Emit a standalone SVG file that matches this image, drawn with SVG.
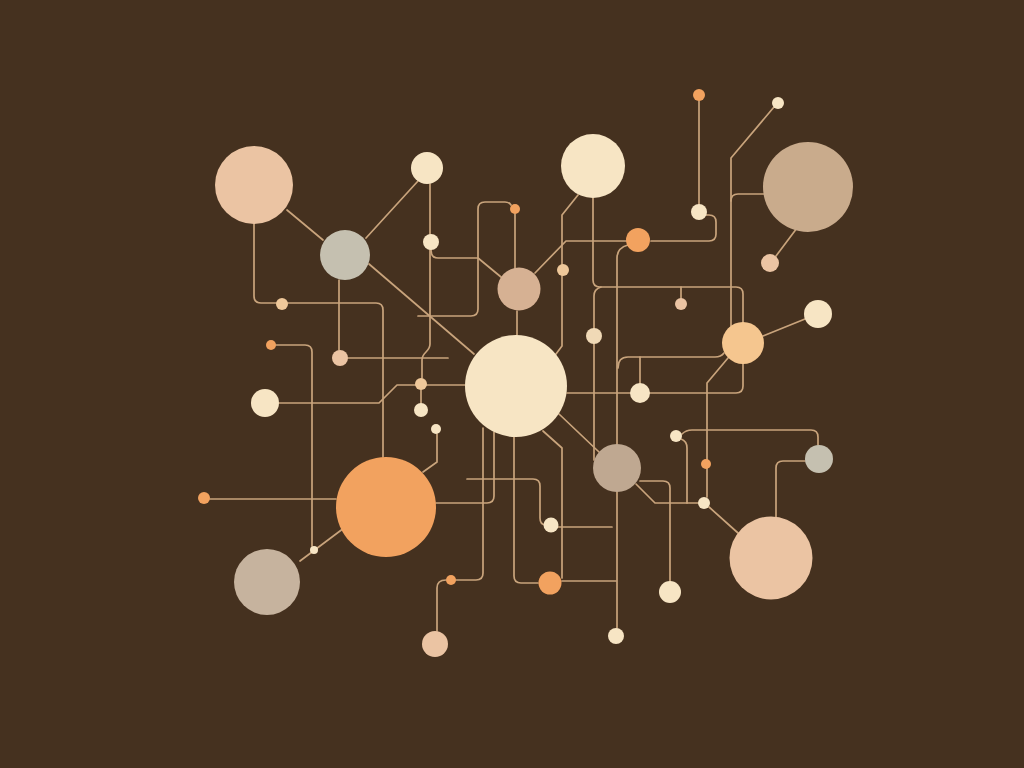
<svg xmlns="http://www.w3.org/2000/svg" width="1024" height="768" viewBox="0 0 1024 768">
<style>
.bg{fill:#45311f}
.ln{fill:none;stroke:#c9a47c;stroke-width:1.7;stroke-linecap:round;stroke-linejoin:round}
.cream{fill:#f7e5c4}
.cream2{fill:#f0d9b6}
.peach{fill:#ebc4a3}
.peach2{fill:#efc89a}
.sage{fill:#c5c0b0}
.tan{fill:#d6b193}
.taupe{fill:#c9ab8c}
.taupe2{fill:#c6b39e}
.taupe3{fill:#bfa891}
.orange{fill:#f2a25f}
.apricot{fill:#f5c68f}
</style>
<rect class="bg" x="0" y="0" width="1024" height="768"/>
<g id="connectors" class="ln">
<path d="M287,210 L323,240"/>
<path d="M366,238 L418,181"/>
<path d="M369,264 L474,354"/>
<path d="M430,184 V344 C430,352 422,352 422,360 V378"/>
<path d="M421,390 V403"/>
<path d="M348,358 H448"/>
<path d="M431,250 Q431,258 438,258 H478 L501,277"/>
<path d="M515,214 V268"/>
<path d="M511,205 Q509,202 505,202 H485 Q478,202 478,209 V309 Q478,316 471,316 H418"/>
<path d="M517,311 V335"/>
<path d="M535,273 L566,241 H626"/>
<path d="M578,195 L562,215 V346 L556,354"/>
<path d="M593,198 V280 Q593,287 600,287 H736 Q743,287 743,294 V386 Q743,393 736,393 H567"/>
<path d="M601,287 Q594,289 594,296 V460"/>
<path d="M681,287 V298"/>
<path d="M628,245 Q617,248 617,258 V444"/>
<path d="M651,241 H709 Q716,241 716,234 V222 Q716,215 709,215 H706"/>
<path d="M699,101 V204"/>
<path d="M774,107 L731,158 V326"/>
<path d="M731,201 Q731,194 738,194 H764"/>
<path d="M797,228 L776,256"/>
<path d="M763,336 L805,319"/>
<path d="M728,358 L707,383 V497"/>
<path d="M724,353 Q721,357 715,357 H628 Q618,357 618,368"/>
<path d="M640,357 V383"/>
<path d="M559,414 L599,452"/>
<path d="M640,481 H663 Q670,481 670,488 V581"/>
<path d="M636,484 L655,503 H698"/>
<path d="M709,507 L738,533"/>
<path d="M682,434 Q686,430 692,430 H811 Q818,430 818,437 V445"/>
<path d="M681,439 Q687,441 687,448 V503"/>
<path d="M805,461 H783 Q776,461 776,468 V517"/>
<path d="M254,224 V296 Q254,303 261,303 H376 Q383,303 383,310 V457"/>
<path d="M339,280 V350"/>
<path d="M276,345 H305 Q312,345 312,352 V546"/>
<path d="M279,403 H379 L397,385 H465"/>
<path d="M437,434 V462 L423,472"/>
<path d="M210,499 H336"/>
<path d="M344,528 L300,561"/>
<path d="M483,428 V573 Q483,580 476,580 H456"/>
<path d="M446,580 Q437,580 437,588 V631"/>
<path d="M494,432 V496 Q494,503 487,503 H436"/>
<path d="M467,479 H533 Q540,479 540,486 V518 Q540,525 546,525"/>
<path d="M558,527 H612"/>
<path d="M514,437 V576 Q514,583 521,583 H538"/>
<path d="M562,581 H616"/>
<path d="M543,431 L562,448 V578"/>
<path d="M617,492 V628"/>
</g>
<g id="n1"><circle class="peach" cx="254" cy="185" r="39"/></g>
<g id="n2"><circle class="sage" cx="345" cy="255" r="25"/></g>
<g id="n3"><circle class="cream" cx="427" cy="168" r="16"/></g>
<g id="n4"><circle class="cream" cx="431" cy="242" r="8"/></g>
<g id="n5"><circle class="tan" cx="519" cy="289" r="21.5"/></g>
<g id="n6"><circle class="orange" cx="515" cy="209" r="5"/></g>
<g id="n7"><circle class="cream" cx="516" cy="386" r="51"/></g>
<g id="n8"><circle class="cream" cx="593" cy="166" r="32"/></g>
<g id="n9"><circle class="orange" cx="699" cy="95" r="6"/></g>
<g id="n10"><circle class="cream" cx="778" cy="103" r="6"/></g>
<g id="n11"><circle class="taupe" cx="808" cy="187" r="45"/></g>
<g id="n12"><circle class="cream" cx="699" cy="212" r="8"/></g>
<g id="n13"><circle class="orange" cx="638" cy="240" r="12"/></g>
<g id="n14"><circle class="peach" cx="770" cy="263" r="9"/></g>
<g id="n15"><circle class="peach2" cx="563" cy="270" r="6"/></g>
<g id="n16"><circle class="peach" cx="681" cy="304" r="6"/></g>
<g id="n17"><circle class="cream" cx="818" cy="314" r="14"/></g>
<g id="n18"><circle class="apricot" cx="743" cy="343" r="21"/></g>
<g id="n19"><circle class="cream2" cx="594" cy="336" r="8"/></g>
<g id="n20"><circle class="cream" cx="640" cy="393" r="10"/></g>
<g id="n21"><circle class="peach2" cx="282" cy="304" r="6"/></g>
<g id="n22"><circle class="orange" cx="271" cy="345" r="5"/></g>
<g id="n23"><circle class="peach" cx="340" cy="358" r="8"/></g>
<g id="n24"><circle class="cream" cx="265" cy="403" r="14"/></g>
<g id="n25"><circle class="peach2" cx="421" cy="384" r="6"/></g>
<g id="n26"><circle class="cream" cx="421" cy="410" r="7"/></g>
<g id="n27"><circle class="cream" cx="436" cy="429" r="5"/></g>
<g id="n28"><circle class="orange" cx="386" cy="507" r="50"/></g>
<g id="n29"><circle class="orange" cx="204" cy="498" r="6"/></g>
<g id="n30"><circle class="cream" cx="314" cy="550" r="4"/></g>
<g id="n31"><circle class="taupe2" cx="267" cy="582" r="33"/></g>
<g id="n32"><circle class="orange" cx="451" cy="580" r="5"/></g>
<g id="n33"><circle class="peach" cx="435" cy="644" r="13"/></g>
<g id="n34"><circle class="taupe3" cx="617" cy="468" r="24"/></g>
<g id="n35"><circle class="cream" cx="551" cy="525" r="7.5"/></g>
<g id="n36"><circle class="orange" cx="550" cy="583" r="11.5"/></g>
<g id="n37"><circle class="cream" cx="670" cy="592" r="11"/></g>
<g id="n38"><circle class="cream" cx="616" cy="636" r="8"/></g>
<g id="n39"><circle class="cream" cx="676" cy="436" r="6"/></g>
<g id="n40"><circle class="orange" cx="706" cy="464" r="5"/></g>
<g id="n41"><circle class="cream" cx="704" cy="503" r="6"/></g>
<g id="n42"><circle class="sage" cx="819" cy="459" r="14"/></g>
<g id="n43"><circle class="peach" cx="771" cy="558" r="41.5"/></g>
</svg>
